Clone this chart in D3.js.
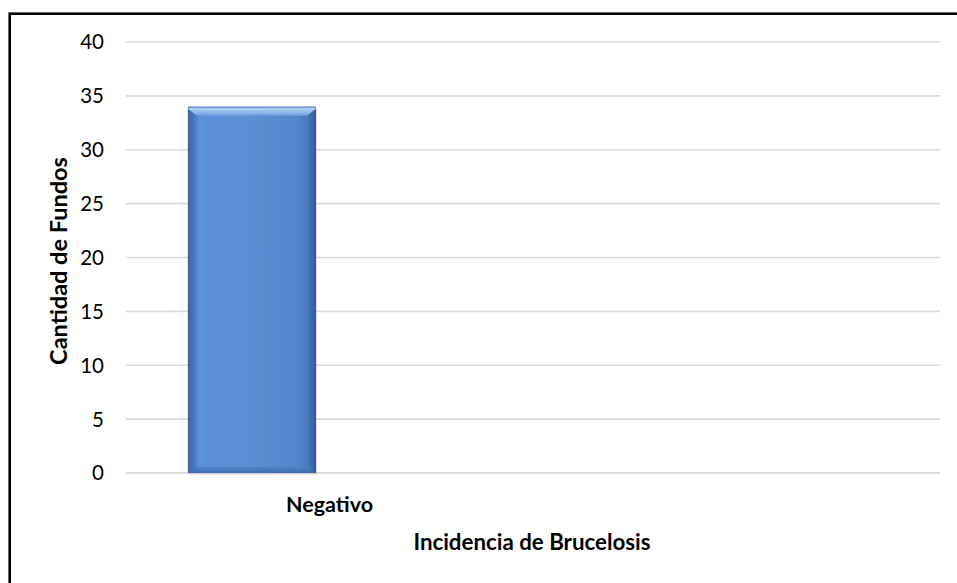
<!DOCTYPE html>
<html>
<head>
<meta charset="utf-8">
<script src="https://cdn.jsdelivr.net/npm/d3@7"></script>
<style>
  html, body { margin: 0; padding: 0; background: #fff; }
  svg { display: block; }
</style>
</head>
<body>
<svg id="chart" width="957" height="583"></svg>
<script>
// ---- data ----
const categories = ["Negativo"];
const values = [34];
const yTicks = [0, 5, 10, 15, 20, 25, 30, 35, 40];
const yTitle = "Cantidad de Fundos";
const xTitle = "Incidencia de Brucelosis";

// ---- layout ----
const W = 957, H = 583;
const plot = { left: 126, right: 940, top: 42, bottom: 473 };
const FONT = "Lato, 'Open Sans', sans-serif";

const svg = d3.select("#chart");

// outer frame (extends past right/bottom edge)
svg.append("rect")
  .attr("x", 9.7).attr("y", 13.7)
  .attr("width", W + 20).attr("height", H + 20)
  .attr("fill", "#fff").attr("stroke", "#000").attr("stroke-width", 2.6);

const y = d3.scaleLinear().domain([0, 40]).range([plot.bottom, plot.top]);
const x = d3.scaleBand().domain(categories)
  .range([plot.left, plot.left + (plot.right - plot.left) / 2]);

// gridlines
svg.append("g").selectAll("line").data(yTicks).join("line")
  .attr("x1", plot.left).attr("x2", plot.right)
  .attr("y1", d => y(d)).attr("y2", d => y(d))
  .attr("stroke", d => d === 0 ? "#cfcfcf" : "#dadada")
  .attr("stroke-width", 1.6);

// y tick labels
svg.append("g").selectAll("text").data(yTicks).join("text")
  .attr("x", 104).attr("y", d => y(d)).attr("dy", "0.36em")
  .attr("text-anchor", "end")
  .attr("font-family", FONT).attr("font-size", 20.5).attr("fill", "#000")
  .text(d => d);

// gradients
const defs = svg.append("defs");
const gH = defs.append("linearGradient").attr("id", "barH")
  .attr("x1", "0").attr("x2", "1").attr("y1", "0").attr("y2", "0");
[[0, "#39619c"], [0.04, "#4774b8"], [0.09, "#5b93dd"], [0.16, "#5a8fd7"],
 [0.5, "#5b8dd3"], [0.85, "#5486cd"], [0.93, "#4a7bc0"], [0.975, "#3b67a8"], [1, "#2d5690"]]
  .forEach(([o, c]) => gH.append("stop").attr("offset", o).attr("stop-color", c));
const gTop = defs.append("linearGradient").attr("id", "barTop")
  .attr("x1", "0").attr("x2", "0").attr("y1", "0").attr("y2", "1");
[[0, "#4f7fc0"], [0.25, "#b4d2f4"], [1, "#6b9fe0"]]
  .forEach(([o, c]) => gTop.append("stop").attr("offset", o).attr("stop-color", c));
const gBot = defs.append("linearGradient").attr("id", "barBot")
  .attr("x1", "0").attr("x2", "0").attr("y1", "0").attr("y2", "1");
[[0, "#4d80c6"], [1, "#3a68aa"]]
  .forEach(([o, c]) => gBot.append("stop").attr("offset", o).attr("stop-color", c));

// bars
const bw = x.bandwidth();
const barOff = bw * 0.152, barW = bw * 0.315;
const bars = svg.append("g").selectAll("g").data(categories.map((c, i) => ({ c, v: values[i] })))
  .join("g");
// soft shadow
bars.append("rect")
  .attr("x", d => x(d.c) + barOff + 1).attr("y", d => y(d.v) + 2)
  .attr("width", barW).attr("height", d => y(0) - y(d.v))
  .attr("fill", "#000").attr("opacity", 0.08);
bars.append("rect")
  .attr("x", d => x(d.c) + barOff).attr("y", d => y(d.v))
  .attr("width", barW).attr("height", d => y(0) - y(d.v))
  .attr("fill", "url(#barH)");
// top bevel
bars.append("path")
  .attr("d", d => {
    const x0 = x(d.c) + barOff, x1 = x0 + barW, t = y(d.v), b = 9;
    return `M${x0},${t + 2}Q${x0},${t} ${x0 + 3},${t}L${x1 - 3},${t}Q${x1},${t} ${x1},${t + 2}L${x1 - b},${t + b}L${x0 + b},${t + b}Z`;
  })
  .attr("fill", "url(#barTop)");
// bottom bevel
bars.append("path")
  .attr("d", d => {
    const x0 = x(d.c) + barOff, x1 = x0 + barW, b0 = y(0), b = 6;
    return `M${x0},${b0}L${x1},${b0}L${x1 - b},${b0 - b}L${x0 + b},${b0 - b}Z`;
  })
  .attr("fill", "url(#barBot)").attr("opacity", 0.8);

// category labels
svg.append("g").selectAll("text").data(categories).join("text")
  .attr("x", d => x(d) + bw / 2).attr("y", 512)
  .attr("text-anchor", "middle")
  .attr("font-family", FONT).attr("font-size", 21.5).attr("font-weight", "bold")
  .text(d => d);

// axis titles
svg.append("text")
  .attr("x", 532).attr("y", 550).attr("text-anchor", "middle")
  .attr("font-family", FONT).attr("font-size", 22.3).attr("font-weight", "bold")
  .text(xTitle);
svg.append("text")
  .attr("transform", "translate(67,261) rotate(-90)").attr("text-anchor", "middle")
  .attr("font-family", FONT).attr("font-size", 23.5).attr("font-weight", "bold")
  .text(yTitle);
</script>
</body>
</html>
